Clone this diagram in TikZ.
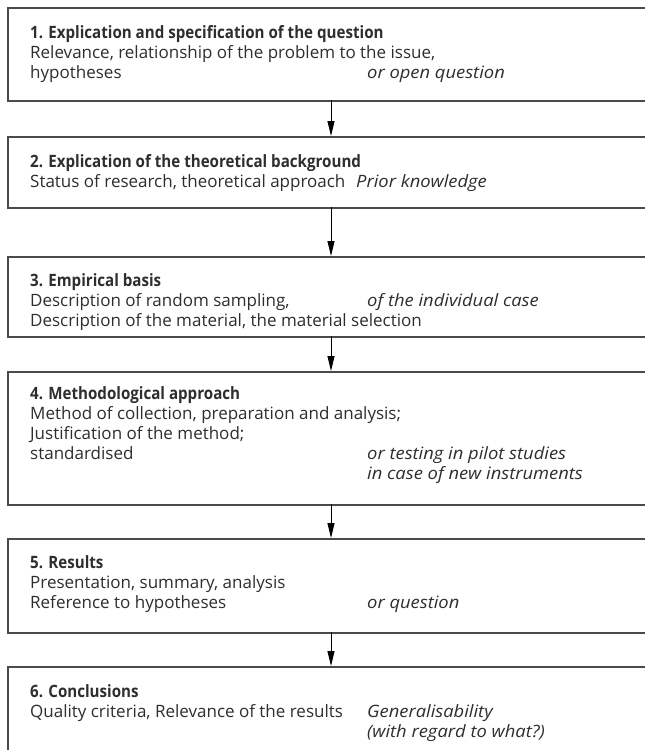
\documentclass[tikz,border=0pt]{standalone}
\usepackage{fontspec}
\setmainfont{Open Sans}[
  BoldFeatures={FakeStretch=0.89},
  ItalicFeatures={FakeStretch=1.08}]
\usetikzlibrary{arrows.meta}
\definecolor{ink}{HTML}{2E2E2E}
\definecolor{frame}{HTML}{4A4A4A}
\tikzset{
  stage/.style={draw=frame, line width=1.5pt, rectangle, inner sep=0pt,
                minimum width=660pt, anchor=north west},
  txt/.style={anchor=base west, inner sep=0pt, text=ink,
              font=\fontsize{17}{20}\selectfont},
  head/.style={txt, font=\fontsize{17}{20}\selectfont\bfseries},
  alt/.style={txt, font=\fontsize{17}{20}\selectfont\itshape},
  flow/.style={draw=black, line width=0.9pt,
               -{Triangle[length=15pt,width=7pt]}}
}
\begin{document}
\begin{tikzpicture}[x=1pt,y=-1pt]
  \useasboundingbox (0,0) rectangle (645,750);
  \clip (0,0) rectangle (645,750);
  \fill[white] (0,0) rectangle (645,750);

  % the six stages
  \node[stage, minimum height=93pt]  (s1) at (7,7)   {};
  \node[stage, minimum height=71pt]  (s2) at (7,136) {};
  \node[stage, minimum height=80pt]  (s3) at (7,256) {};
  \node[stage, minimum height=133pt] (s4) at (7,371) {};
  \node[stage, minimum height=94pt]  (s5) at (7,538) {};
  \node[stage, minimum height=120pt] (s6) at (7,666) {};

  % stage 1
  \node[head] (t1)  at (30,38) {1. Explication and specification of the question};
  \node[txt]  (t1a) at (30,58) {Relevance, relationship of the problem to the issue,};
  \node[txt]  (t1b) at (30,78) {hypotheses};
  \node[alt]  (t1c) at (367,78) {or open question};

  % stage 2
  \node[head] (t2)  at (30,167) {2. Explication of the theoretical background};
  \node[txt]  (t2a) at (30,187) {Status of research, theoretical approach};
  \node[alt]  (t2b) at (356,187) {Prior knowledge};

  % stage 3
  \node[head] (t3)  at (30,286) {3. Empirical basis};
  \node[txt]  (t3a) at (30,306) {Description of random sampling,};
  \node[alt]  (t3b) at (367,306) {of the individual case};
  \node[txt]  (t3c) at (30,326) {Description of the material, the material selection};

  % stage 4
  \node[head] (t4)  at (30,399) {4. Methodological approach};
  \node[txt]  (t4a) at (30,419) {Method of collection, preparation and analysis;};
  \node[txt]  (t4b) at (30,439) {Justification of the method;};
  \node[txt]  (t4c) at (30,459) {standardised};
  \node[alt]  (t4d) at (367,459) {or testing in pilot studies};
  \node[alt]  (t4e) at (367,479) {in case of new instruments};

  % stage 5
  \node[head] (t5)  at (30,568) {5. Results};
  \node[txt]  (t5a) at (30,588) {Presentation, summary, analysis};
  \node[txt]  (t5b) at (30,608) {Reference to hypotheses};
  \node[alt]  (t5c) at (367,608) {or question};

  % stage 6
  \node[head] (t6)  at (30,697) {6. Conclusions};
  \node[txt]  (t6a) at (30,717) {Quality criteria, Relevance of the results};
  \node[alt]  (t6b) at (367,717) {Generalisability};
  \node[alt]  (t6c) at (367,737) {(with regard to what?)};

  % connectors down the middle
  \coordinate (c1) at (331,100);
  \coordinate (c2) at (331,207);
  \coordinate (c3) at (331,336);
  \coordinate (c4) at (331,504);
  \coordinate (c5) at (331,632);
  \draw[flow] (c1) -- (c1 |- s2.north);
  \draw[flow] (c2) -- (c2 |- s3.north);
  \draw[flow] (c3) -- (c3 |- s4.north);
  \draw[flow] (c4) -- (c4 |- s5.north);
  \draw[flow] (c5) -- (c5 |- s6.north);
\end{tikzpicture}
\end{document}
